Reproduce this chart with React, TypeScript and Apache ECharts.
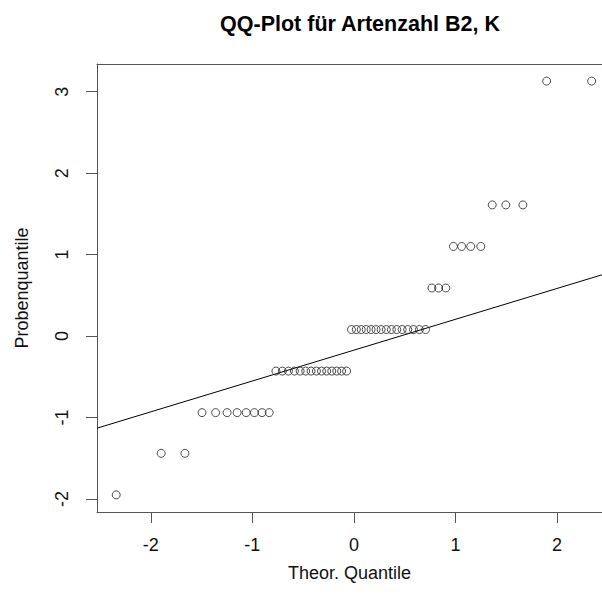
import React, { useEffect, useRef } from "react";
import * as echarts from "echarts";

const titleText = "QQ-Plot für Artenzahl B2, K";
const xAxisTitle = "Theor. Quantile";
const yAxisTitle = "Probenquantile";

const theoreticalQuantiles = [
  -2.341, -1.898, -1.664, -1.496, -1.362, -1.249, -1.15, -1.061, -0.98, -0.905,
  -0.834, -0.768, -0.705, -0.645, -0.586, -0.53, -0.475, -0.422, -0.369, -0.319,
  -0.268, -0.218, -0.169, -0.121, -0.072, -0.024, 0.024, 0.072, 0.121, 0.169,
  0.218, 0.268, 0.319, 0.369, 0.422, 0.475, 0.53, 0.586, 0.645, 0.705,
  0.768, 0.834, 0.905, 0.98, 1.061, 1.15, 1.249, 1.362, 1.496, 1.664,
  1.898, 2.341,
];

const sampleQuantiles = [
  -1.95, -1.44, -1.44, -0.94, -0.94, -0.94, -0.94, -0.94, -0.94, -0.94,
  -0.94, -0.43, -0.43, -0.43, -0.43, -0.43, -0.43, -0.43, -0.43, -0.43,
  -0.43, -0.43, -0.43, -0.43, -0.43, 0.08, 0.08, 0.08, 0.08, 0.08,
  0.08, 0.08, 0.08, 0.08, 0.08, 0.08, 0.08, 0.08, 0.08, 0.08,
  0.59, 0.59, 0.59, 1.1, 1.1, 1.1, 1.1, 1.61, 1.61, 1.61,
  3.13, 3.13,
];

const qqLineX = [-2.53, 2.443];
const qqLineY = [-1.131, 0.752];

const xTicks = [-2, -1, 0, 1, 2];
const yTicks = [-2, -1, 0, 1, 2, 3];

const FONT = "'Liberation Sans', Arial, Helvetica, sans-serif";
const FRAME = "#555";

export default function App() {
  const ref = useRef<HTMLDivElement>(null);

  useEffect(() => {
    if (!ref.current) return;
    const chart = echarts.init(ref.current, null, { renderer: "svg" });
    const points = theoreticalQuantiles.map((x, i) => [x, sampleQuantiles[i]]);
    const linePts = qqLineX.map((x, i) => [x, qqLineY[i]]);
    chart.setOption({
      animation: false,
      backgroundColor: "#ffffff",
      title: {
        text: titleText,
        left: 355,
        top: 8,
        textAlign: "center",
        textStyle: {
          fontFamily: FONT,
          fontSize: 21.5,
          fontWeight: "bold",
          color: "#000",
        },
      },
      grid: {
        left: 97,
        top: 64,
        bottom: 86,
        right: 0,
        show: false,
      },
      xAxis: [
        {
          type: "value",
          position: "bottom",
          min: -2.53,
          max: 2.443,
          name: xAxisTitle,
          nameLocation: "middle",
          nameGap: 52,
          nameTextStyle: { fontFamily: FONT, fontSize: 18, color: "#111" },
          splitLine: { show: false },
          axisLine: { show: true, onZero: false, lineStyle: { color: FRAME, width: 1 } },
          axisTick: {
            show: true,
            length: 11,
            lineStyle: { color: FRAME },
            customValues: xTicks,
          },
          axisLabel: {
            show: true,
            margin: 24,
            fontFamily: FONT,
            fontSize: 18,
            color: "#111",
            customValues: xTicks,
          },
        },
        {
          type: "value",
          position: "top",
          min: -2.53,
          max: 2.443,
          splitLine: { show: false },
          axisLine: { show: true, onZero: false, lineStyle: { color: FRAME, width: 1 } },
          axisTick: { show: false },
          axisLabel: { show: false },
        },
      ],
      yAxis: {
        type: "value",
        min: -2.16,
        max: 3.34,
        name: yAxisTitle,
        nameLocation: "middle",
        nameGap: 66,
        nameRotate: 90,
        nameTextStyle: { fontFamily: FONT, fontSize: 18, color: "#111" },
        splitLine: { show: false },
        axisLine: { show: true, onZero: false, lineStyle: { color: FRAME, width: 1 } },
        axisTick: {
          show: true,
          length: 11,
          lineStyle: { color: FRAME },
          customValues: yTicks,
        },
        axisLabel: {
          show: true,
          rotate: 90,
          margin: 26,
          fontFamily: FONT,
          fontSize: 18,
          color: "#111",
          customValues: yTicks,
        },
      },
      series: [
        {
          type: "line",
          xAxisIndex: 0,
          data: linePts,
          symbol: "none",
          clip: true,
          lineStyle: { color: "#000", width: 1 },
          z: 2,
        },
        {
          type: "scatter",
          xAxisIndex: 0,
          data: points,
          symbol: "circle",
          symbolSize: 8,
          itemStyle: {
            color: "rgba(255,255,255,0)",
            borderColor: "#222",
            borderWidth: 1,
          },
          z: 3,
        },
      ],
    });
    return () => chart.dispose();
  }, []);

  return (
    <div
      ref={ref}
      style={{
        position: "absolute",
        left: 0,
        top: 0,
        width: 602,
        height: 598,
        background: "#fff",
      }}
    />
  );
}
